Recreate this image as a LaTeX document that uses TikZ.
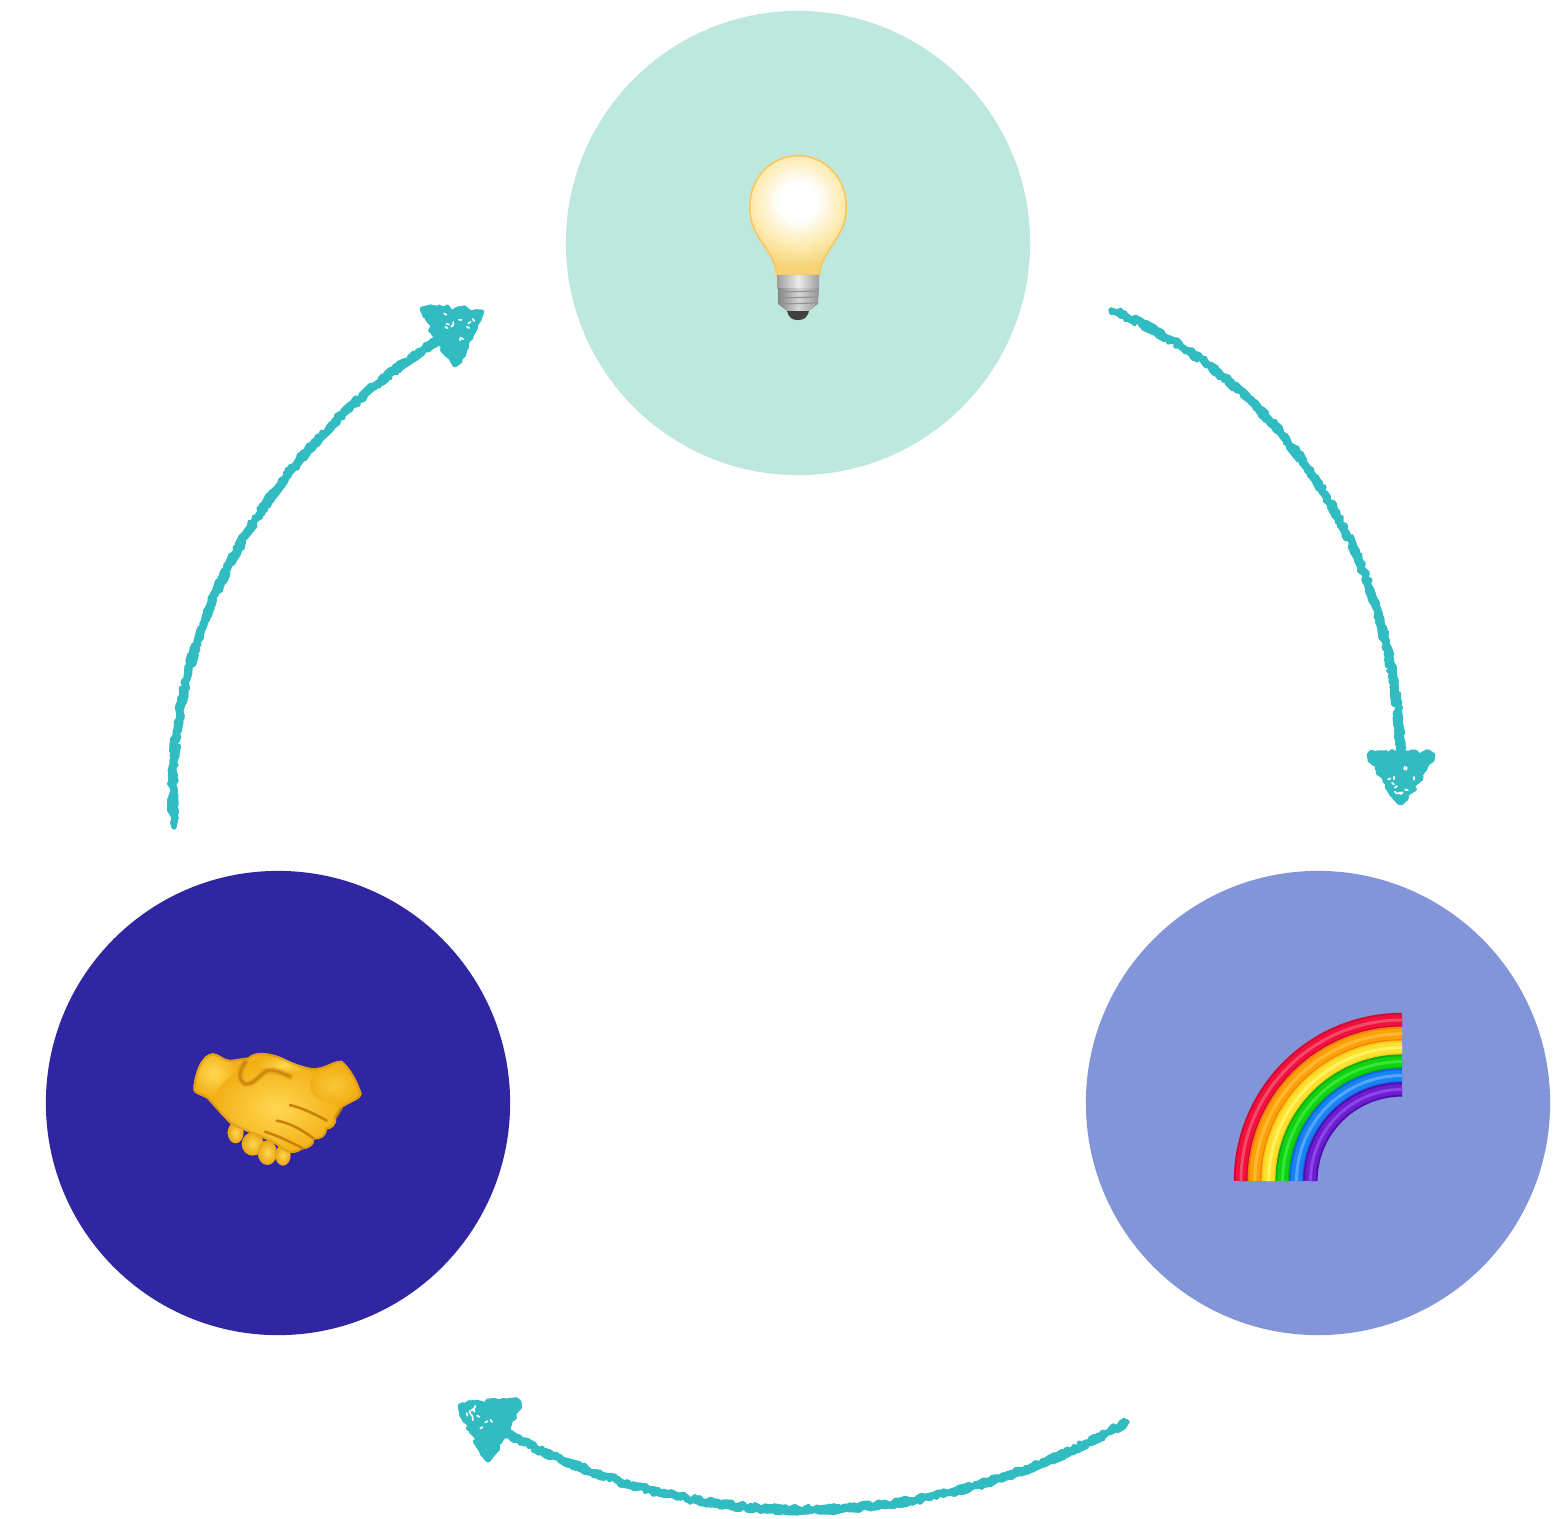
\documentclass[tikz,border=0pt]{standalone}
\usepackage{tikz}
\usetikzlibrary{decorations.pathmorphing,calc}
\definecolor{arrowColor}{RGB}{49,188,194}
\definecolor{ideaColor}{RGB}{190,232,222}
\definecolor{rainbowColor}{RGB}{129,149,216}
\definecolor{handsColor}{RGB}{48,38,161}
\definecolor{bulbEdge}{RGB}{246,210,115}
\definecolor{bulbMid}{RGB}{253,236,180}
\definecolor{handBase}{RGB}{243,176,22}
\definecolor{handLight}{RGB}{255,216,82}
\definecolor{handDark}{RGB}{200,130,8}
\definecolor{redDark}{RGB}{205,10,50}
\definecolor{redBase}{RGB}{245,15,60}
\definecolor{redLight}{RGB}{240,75,105}
\definecolor{orangeDark}{RGB}{240,130,10}
\definecolor{orangeBase}{RGB}{255,160,10}
\definecolor{orangeLight}{RGB}{255,185,50}
\definecolor{yellowDark}{RGB}{248,205,30}
\definecolor{yellowBase}{RGB}{255,225,45}
\definecolor{yellowLight}{RGB}{255,242,100}
\definecolor{greenDark}{RGB}{10,175,15}
\definecolor{greenBase}{RGB}{15,210,20}
\definecolor{greenLight}{RGB}{55,230,55}
\definecolor{blueDark}{RGB}{15,105,230}
\definecolor{blueBase}{RGB}{25,130,245}
\definecolor{blueLight}{RGB}{85,165,255}
\definecolor{purpleDark}{RGB}{80,15,170}
\definecolor{purpleBase}{RGB}{110,30,210}
\definecolor{purpleLight}{RGB}{140,70,230}
\newcommand{\px}{.2845pt}
\tikzstyle{diagram} = [x = .01cm, y = -.01cm]
\tikzstyle{stageCircle} = [circle, minimum size = 4.64cm, inner sep = 0pt, outer sep = 0pt]
\tikzstyle{roughStroke} = [draw = arrowColor, line width = 4.6*\px, line cap = round, line join = round, decorate, decoration = {random steps, segment length = 1.4pt, amplitude = 1.05pt}]
\tikzstyle{sketchHead} = [fill = arrowColor, roughStroke]
\tikzstyle{bandStroke} = [line cap = butt]
\pgfdeclareradialshading{bulbGlow}{\pgfpoint{0bp}{0bp}}{color(0bp)=(white); color(7bp)=(white); color(16bp)=(bulbMid); color(25bp)=(bulbEdge); color(50bp)=(bulbEdge)}
\newcommand{\bulbOutline}{(798,155) .. controls (825,155) and (847,177) .. (847,207) .. controls (847,240) and (822,248) .. (820,276) -- (776,276) .. controls (774,248) and (749,240) .. (749,207) .. controls (749,177) and (771,155) .. (798,155) -- cycle}
\newcommand{\handOutline}{(70,180) .. controls (72,130) and (95,70) .. (130,70) .. controls (150,72) and (160,90) .. (180,90) -- (235,82) .. controls (250,65) and (290,62) .. (340,85) .. controls (380,105) and (420,120) .. (450,112) .. controls (480,105) and (495,90) .. (515,92) .. controls (545,115) and (565,160) .. (575,190) .. controls (575,210) and (540,215) .. (515,235) -- (498,262) .. controls (502,285) and (485,298) .. (470,298) .. controls (470,320) and (450,330) .. (432,328) .. controls (435,345) and (415,358) .. (395,358) .. controls (380,372) and (350,375) .. (320,345) .. controls (280,320) and (210,300) .. (180,280) .. controls (150,250) and (130,225) .. (110,205) .. controls (90,195) and (70,190) .. (70,180) -- cycle}
\newcommand{\thumbCrease}{(226,96) .. controls (205,125) and (205,150) .. (225,162) .. controls (250,165) and (265,140) .. (285,125) .. controls (305,115) and (330,125) .. (360,140)}
\newcommand{\sketchCurve}[1]{
  \foreach \pass in {1,...,6} {
    \draw [roughStroke] #1;
  }
}
\newcommand{\arrowHead}[3]{
  \foreach \pass in {1,2,3} {
    \filldraw [sketchHead] (#1) -- (#2) -- (#3) -- cycle;
  }
  \foreach \speck in {1,...,11} {
    \pgfmathsetmacro{\u}{.1 + .8 * rnd}
    \pgfmathsetmacro{\v}{.2 + .6 * rnd}
    \pgfmathsetmacro{\w}{20 + 160 * rnd}
    \fill [white, rotate around = {\w:($(#1)!\v!($(#2)!\u!(#3)$)$)}] ($(#1)!\v!($(#2)!\u!(#3)$)$) ellipse [x radius = 2.2, y radius = 1];
  }
}
\newcommand{\rainbowBand}[2]{
  \draw [bandStroke, #2Dark, line width = 14.4*\px] (1402 - #1, 1181) arc [start angle = 180, end angle = 270, radius = #1];
  \draw [bandStroke, #2Base, line width = 10.5*\px] (1402 - #1, 1181) arc [start angle = 180, end angle = 270, radius = #1];
  \draw [bandStroke, #2Light, line width = 3*\px] (1402 - #1, 1181) arc [start angle = 180, end angle = 270, radius = #1];
}
\begin{document}
\begin{tikzpicture}[diagram]
  \useasboundingbox (0,0) rectangle (1558,1518);
  \pgfmathsetseed{11}

  \node [stageCircle, fill = ideaColor] (ideaCircle) at (798,243) {};
  \node [stageCircle, fill = rainbowColor] (rainbowCircle) at (1318,1103) {};
  \node [stageCircle, fill = handsColor] (handsCircle) at (278,1103) {};

  % arrows
  \coordinate (ideaOut) at (1111,310);
  \coordinate (rainbowIn) at (1401,765);
  \coordinate (rainbowOut) at (1127,1422);
  \coordinate (handsIn) at (497,1428);
  \coordinate (handsOut) at (174,827);
  \coordinate (ideaIn) at (455,330);
  \sketchCurve{(ideaOut) .. controls (1295,385) and (1398,570) .. (rainbowIn)}
  \sketchCurve{(rainbowOut) .. controls (921,1538) and (694,1538) .. (handsIn)}
  \sketchCurve{(handsOut) .. controls (160,625) and (275,435) .. (ideaIn)}

  \coordinate (rainbowTip) at (1401,803);
  \coordinate (rainbowWingA) at (1369,755);
  \coordinate (rainbowWingB) at (1433,755);
  \arrowHead{rainbowTip}{rainbowWingA}{rainbowWingB}
  \coordinate (handsTip) at (460,1406);
  \coordinate (handsWingA) at (519,1402);
  \coordinate (handsWingB) at (488,1460);
  \arrowHead{handsTip}{handsWingA}{handsWingB}
  \coordinate (ideaTip) at (482,312);
  \coordinate (ideaWingA) at (422,309);
  \coordinate (ideaWingB) at (455,365);
  \arrowHead{ideaTip}{ideaWingA}{ideaWingB}

  % bulb
  \begin{scope}
    \clip \bulbOutline;
    \fill [bulbEdge] (740,150) rectangle (856,280);
    \shade [shading = bulbGlow] (798,201) circle (68);
    \draw [bulbEdge!85!orange, line width = 3*\px] \bulbOutline;
  \end{scope}
  \shade [left color = black!38, right color = black!38, middle color = white!92!black] (777,275) rectangle (819,288);
  \shade [left color = black!48, right color = black!42, middle color = white!84!black] (778,288) -- (819,288) -- (818,304) -- (809,311) -- (787,311) -- (778,304) -- cycle;
  \foreach \threadY in {292,298,304} {
    \draw [black!42, line width = 1.2*\px] (779,\threadY) -- (818,\threadY - 1);
  }
  \fill [black!75] (787,311) -- (809,311) .. controls (807,318) and (804,320) .. (798,320) .. controls (792,320) and (789,318) .. (787,311) -- cycle;

  % rainbow
  \rainbowBand{161}{red}
  \rainbowBand{147.2}{orange}
  \rainbowBand{133.3}{yellow}
  \rainbowBand{119.4}{green}
  \rainbowBand{105.5}{blue}
  \rainbowBand{91.6}{purple}

  % handshake
  \begin{scope}[shift = {(170,1030)}, scale = .3333]
    \foreach \fingerX/\fingerY/\fingerA/\fingerB in {197/308/24/32, 248/342/33/35, 292/368/29/37, 339/376/23/31} {
      \shade [inner color = handLight, outer color = handBase!75!handDark] (\fingerX,\fingerY) ellipse [x radius = \fingerA, y radius = \fingerB];
    }
    \begin{scope}
      \clip \handOutline;
      \fill [handBase] (50,50) rectangle (600,400);
      \shade [inner color = handLight, outer color = handBase] (130,130) circle (70);
      \shade [inner color = handLight, outer color = handBase] (320,235) ellipse [x radius = 190, y radius = 140];
      \shade [inner color = handLight, outer color = handBase] (340,105) ellipse [x radius = 80, y radius = 30];
      \shade [inner color = handLight!60!handBase, outer color = handBase] (490,165) ellipse [x radius = 70, y radius = 55];
      \draw [handDark, line width = 4*\px, opacity = .4] \handOutline;
    \end{scope}
    \draw [handDark, line width = 6*\px, line cap = round, opacity = .35] \thumbCrease;
    \draw [handDark, line width = 2.6*\px, line cap = round, opacity = .8] \thumbCrease;
    \draw [handDark, line width = 2.6*\px, line cap = round] (360,225) .. controls (400,235) and (440,255) .. (470,272);
    \draw [handDark, line width = 2.6*\px, line cap = round] (320,272) .. controls (360,278) and (405,305) .. (430,325);
    \draw [handDark, line width = 2.6*\px, line cap = round] (285,305) .. controls (330,320) and (370,340) .. (398,355);
    \draw [handDark, line width = 3*\px, line cap = round, opacity = .6] (515,235) -- (498,262);
  \end{scope}
\end{tikzpicture}
\end{document}
